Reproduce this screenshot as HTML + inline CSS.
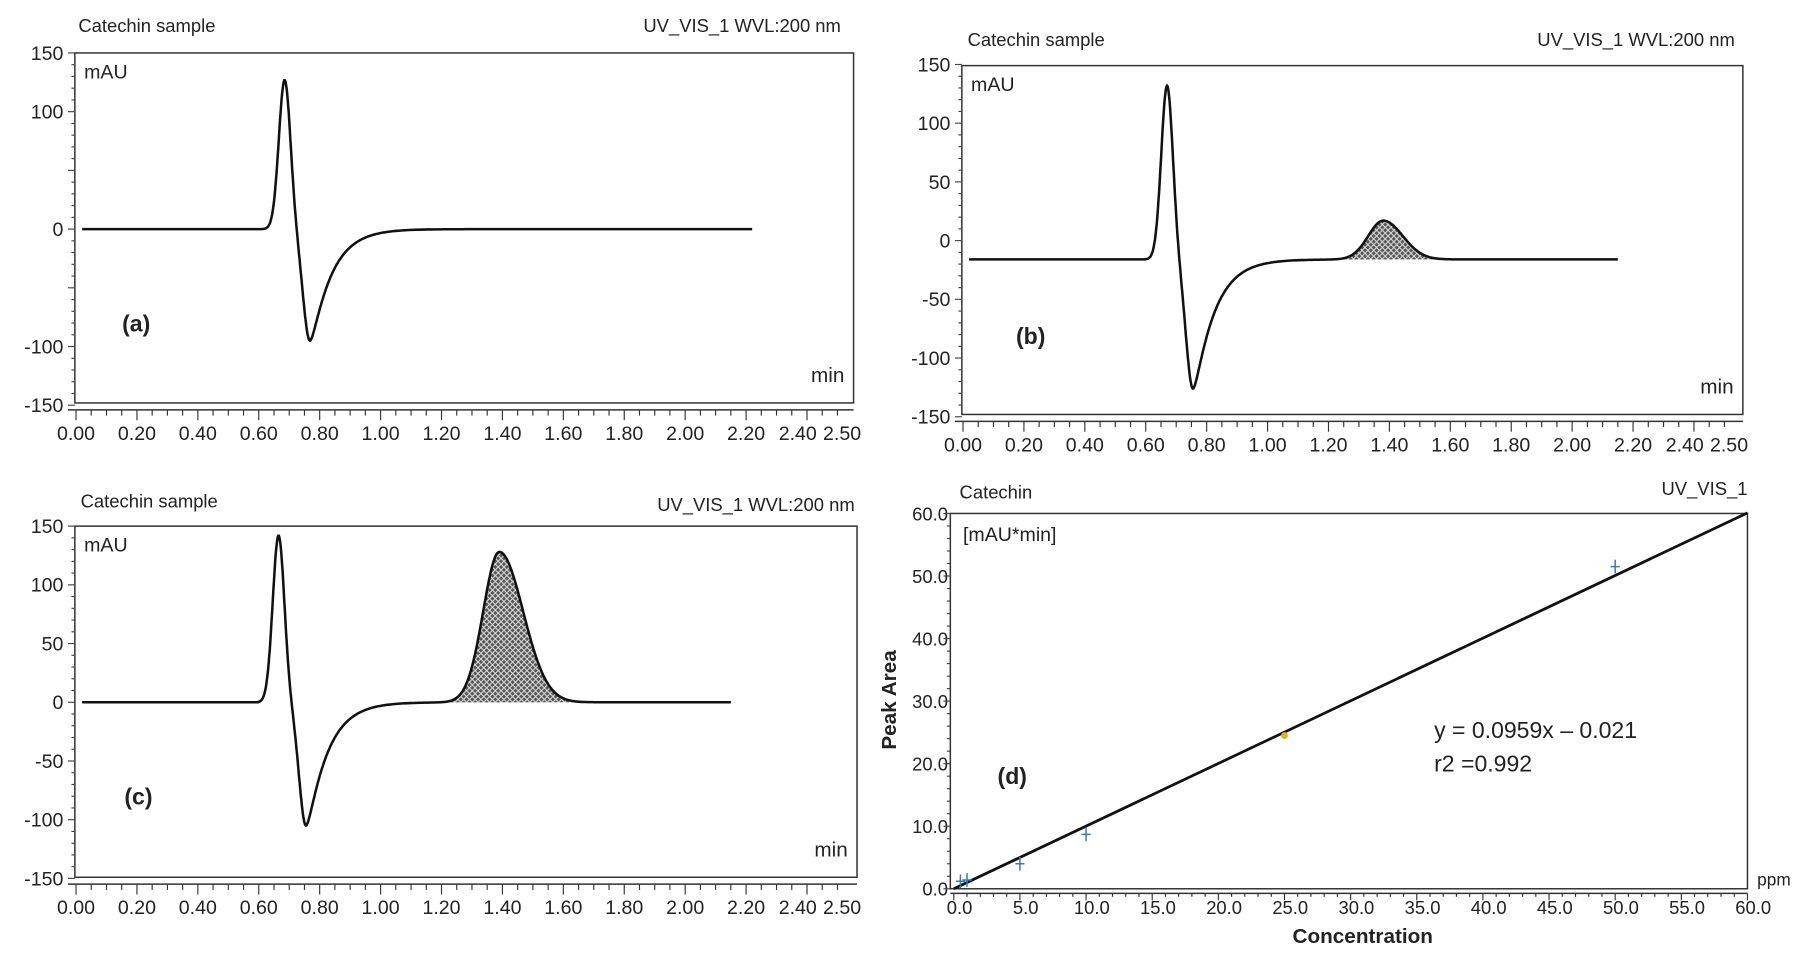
<!DOCTYPE html>
<html><head><meta charset="utf-8"><style>
html,body{margin:0;padding:0;background:#fff}
svg{display:block}
text{font-family:"Liberation Sans",sans-serif;fill:#222}
</style></head><body>
<svg id="s" width="1797" height="959" viewBox="0 0 1560 833" preserveAspectRatio="none" xmlns="http://www.w3.org/2000/svg">
<defs>
<pattern id="h" width="5" height="5" patternUnits="userSpaceOnUse">
<rect width="5" height="5" fill="#555"/>
<path d="M0,0L5,5M5,0L0,5" stroke="#ddd" stroke-width="0.9"/>
</pattern>
</defs>
<g font-size="16">
<text x="68" y="28">Catechin sample</text><text x="730" y="28" text-anchor="end">UV_VIS_1 WVL:200 nm</text>
<text x="840" y="40">Catechin sample</text><text x="1506" y="40" text-anchor="end">UV_VIS_1 WVL:200 nm</text>
<text x="70" y="441">Catechin sample</text><text x="742" y="444" text-anchor="end">UV_VIS_1 WVL:200 nm</text>
<text x="833" y="433">Catechin</text><text x="1517" y="430" text-anchor="end">UV_VIS_1</text>
</g>
<g id="g"></g>
</svg>
<script>
const NS="http://www.w3.org/2000/svg",G=document.getElementById('g');
function el(t,a,txt){const e=document.createElementNS(NS,t);for(const k in a)e.setAttribute(k,a[k]);if(txt!=null)e.textContent=txt;G.appendChild(e);return e;}
function chrom(o){
 const {L,R,T,B,x0,x1,y0,ys,yl,base,pk,mn,hp,tend,lab,lx,ly}=o;
 el('rect',{x:L,y:T,width:R-L,height:B-T,fill:'none',stroke:'#333','stroke-width':1.3});
 const X=t=>x0+(x1-x0)*t/2.5, Y=v=>y0-v*ys;
 yl.forEach(v=>{el('text',{x:L-10,y:Y(v)+6,'text-anchor':'end','font-size':17},String(v));});
 for(let v=-150;v<=150;v+=10){el('line',{x1:L-(v%50?3:6),x2:L,y1:Y(v),y2:Y(v),stroke:'#444','stroke-width':1});}
 const ay=B+6;
 el('line',{x1:L-6,x2:R,y1:ay,y2:ay,stroke:'#333','stroke-width':1.3});
 for(let i=0;i<=50;i++){const t=i*0.05;el('line',{x1:X(t),x2:X(t),y1:ay,y2:ay+(i%4?5:9),stroke:'#333','stroke-width':1});}
 for(let i=0;i<=11;i++){const t=i*0.2;el('text',{x:X(t),y:ay+26,'text-anchor':'middle','font-size':17},t.toFixed(2));}
 el('text',{x:X(2.4)-8,y:ay+26,'text-anchor':'middle','font-size':17},'2.40');
 el('text',{x:X(2.5)+4,y:ay+26,'text-anchor':'middle','font-size':17},'2.50');
 el('text',{x:R-8,y:B-18,'text-anchor':'end','font-size':18},'min');
 el('text',{x:L+8,y:T+22,'font-size':17},'mAU');
 el('text',{x:lx,y:ly,'font-size':20,'font-weight':'bold'},lab);
 const f=t=>{let v=base;
  if(t>0.6){const d=t-pk[0];v+=pk[1]*Math.exp(-Math.pow(d/pk[2],2));}
  const d=t-mn[0];
  if(d<0)v-=mn[1]*Math.exp(-Math.pow(d/mn[2],2));
  else v-=mn[1]*Math.exp(-d*d/(mn[2]*mn[2]+d*0.065));
  return v;};
 const h=t=>{if(!hp)return 0;const d=t-hp[0];const w=d<0?hp[2]:hp[3];return hp[1]*Math.exp(-Math.pow(d/w,2));};
 let p='',q='';
 for(let t=0.02;t<=tend;t+=0.002){const v=f(t)+h(t);p+=(p?'L':'M')+X(t).toFixed(1)+','+Y(v).toFixed(1);}
 if(hp){const a=hp[0]-2.3*hp[2],b=hp[0]+2.6*hp[3];
  for(let t=a;t<=b;t+=0.002){q+=(q?'L':'M')+X(t).toFixed(1)+','+Y(f(t)+h(t)).toFixed(1);}
  q+='L'+X(b).toFixed(1)+','+Y(f(b)).toFixed(1)+'L'+X(a).toFixed(1)+','+Y(f(a)).toFixed(1)+'Z';
  el('path',{d:q,fill:'url(#h)',stroke:'none'});}
 el('path',{d:p,fill:'none',stroke:'#111','stroke-width':2.2});
}
chrom({L:65,R:741,T:46,B:350,x0:66,x1:727,y0:199,ys:1.02,yl:[150,100,0,-100,-150],base:0,pk:[0.685,127,0.027],mn:[0.768,95,0.032],hp:null,tend:2.22,lab:'(a)',lx:106,ly:288});
chrom({L:835,R:1513,T:57,B:360,x0:836,x1:1497,y0:209,ys:1.02,yl:[150,100,50,0,-50,-100,-150],base:-16,pk:[0.67,148,0.027],mn:[0.755,110,0.032],hp:[1.38,33,0.07,0.09],tend:2.15,lab:'(b)',lx:882,ly:299});
chrom({L:65,R:744,T:457,B:762,x0:66,x1:727,y0:610,ys:1.02,yl:[150,100,50,0,-50,-100,-150],base:0,pk:[0.665,142,0.027],mn:[0.755,105,0.032],hp:[1.39,128,0.075,0.11],tend:2.15,lab:'(c)',lx:108,ly:699});
(function(){
 const L=825,R=1517,T=446,B=772,X=c=>828+(R-828)*c/60,Y=v=>B-(B-T)*v/60;
 el('rect',{x:L,y:T,width:R-L,height:B-T,fill:'none',stroke:'#333','stroke-width':1.3});
 for(let v=0;v<=60;v+=10)el('text',{x:L-2,y:Y(v)+6,'text-anchor':'end','font-size':16},v.toFixed(1));
 for(let v=0;v<=60;v+=2)el('line',{x1:L-(v%10?3:6),x2:L,y1:Y(v),y2:Y(v),stroke:'#444'});
 el('line',{x1:L,x2:R,y1:B+4,y2:B+4,stroke:'#333','stroke-width':1.3});
 for(let c=0;c<=60;c+=1)el('line',{x1:X(c),x2:X(c),y1:B+4,y2:B+(c%5?7:10),stroke:'#333'});
 for(let c=0;c<=60;c+=5)el('text',{x:X(c)+5,y:B+22,'text-anchor':'middle','font-size':16},c.toFixed(1));
 el('text',{x:1540,y:769,'font-size':15,'text-anchor':'middle'},'ppm');
 el('text',{x:1183,y:819,'text-anchor':'middle','font-size':18,'font-weight':'bold'},'Concentration');
 el('text',{x:0,y:0,'font-size':18,'font-weight':'bold','text-anchor':'middle',transform:'translate(778,608) rotate(-90)'},'Peak Area');
 el('text',{x:836,y:470,'font-size':17},'[mAU*min]');
 el('text',{x:866,y:681,'font-size':20,'font-weight':'bold'},'(d)');
 el('text',{x:1245,y:641,'font-size':20},'y = 0.0959x \u2013 0.021');
 el('text',{x:1245,y:670,'font-size':20},'r2 =0.992');
 el('line',{x1:X(0),y1:Y(0),x2:X(60),y2:Y(60.1),stroke:'#111','stroke-width':2.4});
 [[0.5,1.2],[1,1.4],[5,4],[10,8.7],[50,51.5]].forEach(([c,v])=>{const x=X(c),y=Y(v);
  el('path',{d:`M${x-4},${y}H${x+4}M${x},${y-6}V${y+6}`,stroke:'#3a7ab8','stroke-width':1.3});});
 el('circle',{cx:X(25),cy:Y(24.5),r:3,fill:'#e8b020'});
})();
</script>
</body></html>
